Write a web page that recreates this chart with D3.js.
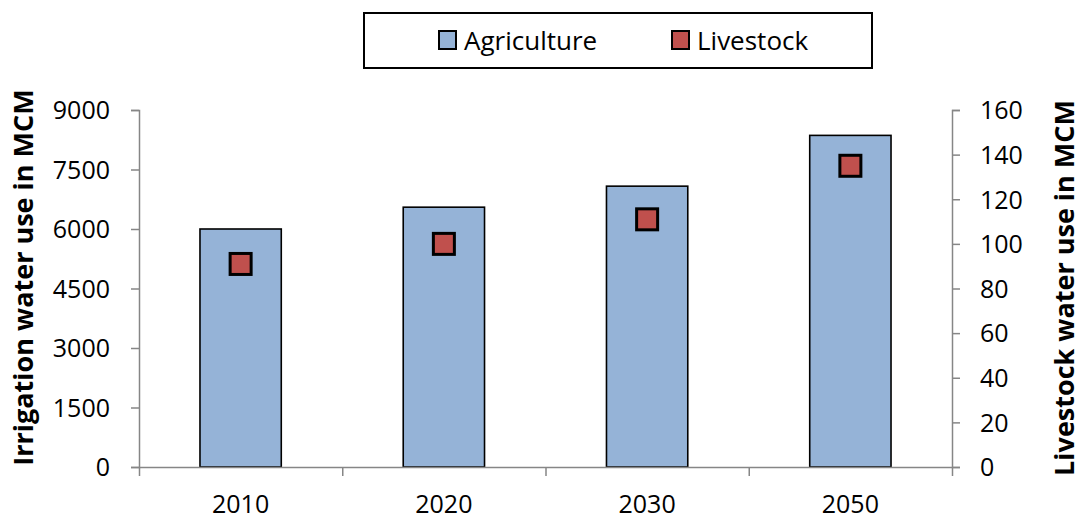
<!DOCTYPE html>
<html><head><meta charset="utf-8">
<script src="https://cdn.jsdelivr.net/npm/d3@7"></script>
<style>body{margin:0;background:#fff}svg{display:block}text{font-family:"Open Sans",sans-serif}</style>
</head><body>
<script>
const years = ["2010","2020","2030","2050"];
const agriculture = [6000, 6550, 7080, 8360];
const livestock = [91, 100, 111, 135];
const leftTicks = [0,1500,3000,4500,6000,7500,9000];
const rightTicks = [0,20,40,60,80,100,120,140,160];

const W=1084,H=525;
const m={l:139,r:1084-952,t:110,b:525-467};
const svg=d3.select("body").append("svg").attr("width",W).attr("height",H);
const x=d3.scaleBand().domain(years).range([m.l,W-m.r]).paddingInner(0.6).paddingOuter(0.3);
const yL=d3.scaleLinear().domain([0,9000]).range([H-m.b,m.t]);
const yR=d3.scaleLinear().domain([0,160]).range([H-m.b,m.t]);
const axisColor="#868686";

// bars
svg.selectAll("rect.bar").data(agriculture).join("rect").attr("class","bar")
 .attr("x",(d,i)=>x(years[i])).attr("width",x.bandwidth())
 .attr("y",d=>yL(d)).attr("height",d=>yL(0)-yL(d))
 .attr("fill","#95B3D7").attr("stroke","#000").attr("stroke-width",1.6);

// axes
const gL=svg.append("g").attr("transform",`translate(${m.l},0)`)
 .call(d3.axisLeft(yL).tickValues(leftTicks).tickSize(8).tickPadding(21).tickFormat(d3.format("d")));
const gR=svg.append("g").attr("transform",`translate(${W-m.r},0)`)
 .call(d3.axisRight(yR).tickValues(rightTicks).tickSize(8).tickPadding(20).tickFormat(d3.format("d")));
const xb=d3.scaleLinear().domain([0,4]).range([m.l,W-m.r]);
const gX=svg.append("g").attr("transform",`translate(0,${H-m.b})`)
 .call(d3.axisBottom(xb).tickValues([0,1,2,3,4]).tickSize(9).tickSizeOuter(0).tickFormat(""));
[gL,gR,gX].forEach(g=>{g.select(".domain").attr("stroke",axisColor).attr("stroke-width",1.5);
 g.selectAll(".tick line").attr("stroke",axisColor).attr("stroke-width",1.5);
 g.selectAll("text").attr("font-size",25).attr("fill","#000").style("font-family","'Open Sans',sans-serif");});
gL.selectAll(".tick text").attr("dy","0.35em");
gR.selectAll(".tick text").attr("dy","0.35em");

// x labels
svg.selectAll("text.xl").data(years).join("text").attr("class","xl")
 .attr("x",d=>x(d)+x.bandwidth()/2).attr("y",513).attr("text-anchor","middle")
 .attr("font-size",25).text(d=>d);

// markers
const ms=21;
svg.selectAll("rect.mk").data(livestock).join("rect").attr("class","mk")
 .attr("x",(d,i)=>x(years[i])+x.bandwidth()/2-ms/2).attr("y",d=>yR(d)-ms/2)
 .attr("width",ms).attr("height",ms)
 .attr("fill","#C0504D").attr("stroke","#000").attr("stroke-width",3);

// axis titles
svg.append("text").attr("transform",`translate(33,277.5) rotate(-90)`)
 .attr("text-anchor","middle").attr("font-size",27).attr("font-weight","bold").text("Irrigation water use in MCM");
svg.append("text").attr("transform",`translate(1074,288) rotate(-90)`)
 .attr("text-anchor","middle").attr("font-size",27).attr("font-weight","bold").text("Livestock water use in MCM");

// legend
const lg=svg.append("g");
lg.append("rect").attr("x",364).attr("y",13).attr("width",508).attr("height",55)
 .attr("fill","#fff").attr("stroke","#000").attr("stroke-width",2);
const items=[{n:"Agriculture",c:"#95B3D7",x:439},{n:"Livestock",c:"#C0504D",x:672}];
items.forEach(it=>{
 lg.append("rect").attr("x",it.x).attr("y",31).attr("width",17).attr("height",18)
  .attr("fill",it.c).attr("stroke","#000").attr("stroke-width",2);
 lg.append("text").attr("x",it.x+25).attr("y",50).attr("font-size",26).text(it.n);
});
</script>
</body></html>
